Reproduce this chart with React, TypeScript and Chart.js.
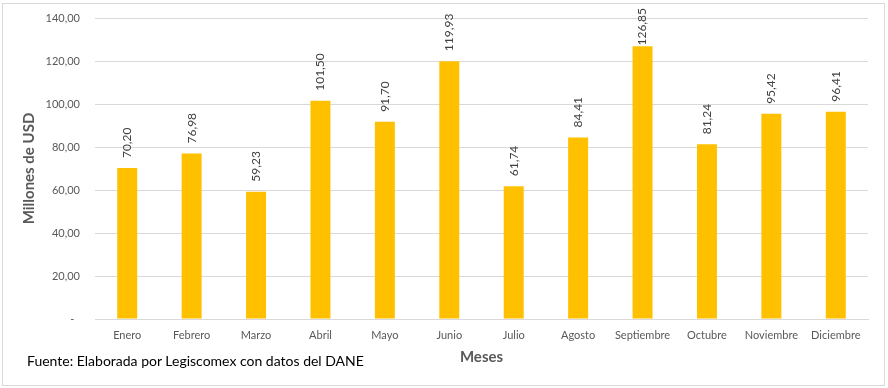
import React, { useEffect, useRef } from "react";
import { Chart, registerables } from "chart.js";

Chart.register(...registerables);

const months = ["Enero", "Febrero", "Marzo", "Abril", "Mayo", "Junio", "Julio", "Agosto", "Septiembre", "Octubre", "Noviembre", "Diciembre"];
const values = [70.2, 76.98, 59.23, 101.5, 91.7, 119.93, 61.74, 84.41, 126.85, 81.24, 95.42, 96.41];
const yTicks = [0, 20, 40, 60, 80, 100, 120, 140];

const FONT = "Lato, 'Open Sans', sans-serif";
const fmt = (v: number) => v.toFixed(2).replace(".", ",");
const tickFmt = (v: number) => (v === 0 ? "-\u00A0\u00A0" : fmt(v));

const labelPlugin = {
  id: "rotLabels",
  afterDatasetsDraw(chart: any) {
    const ctx = chart.ctx;
    const meta = chart.getDatasetMeta(0);
    ctx.save();
    ctx.font = `12px ${FONT}`;
    ctx.fillStyle = "#404040";
    ctx.textAlign = "left";
    ctx.textBaseline = "middle";
    meta.data.forEach((bar: any, i: number) => {
      const txt = fmt(values[i]);
      const w = ctx.measureText(txt).width;
      let start = bar.y - 10;
      if (start - w < 8) start = 8 + w;
      ctx.save();
      ctx.translate(bar.x, start);
      ctx.rotate(-Math.PI / 2);
      ctx.fillText(txt, 0, 0);
      ctx.restore();
    });
    ctx.restore();
  },
};

export default function App() {
  const ref = useRef<HTMLCanvasElement>(null);
  useEffect(() => {
    document.body.style.margin = "0";
    const chart = new Chart(ref.current!, {
      type: "bar",
      data: {
        labels: months,
        datasets: [
          {
            data: values,
            backgroundColor: "#FFC000",
            barPercentage: 0.31,
            categoryPercentage: 1,
          },
        ],
      },
      options: {
        animation: false,
        responsive: false,
        layout: { padding: { left: 20, right: 20, top: 18, bottom: 18 } },
        plugins: { legend: { display: false }, tooltip: { enabled: false } },
        scales: {
          x: {
            grid: { display: false, drawTicks: false },
            border: { color: "#d9d9d9" },
            ticks: { color: "#595959", font: { family: FONT, size: 11 }, maxRotation: 0, autoSkip: false, padding: 10 },
            title: { display: true, text: "Meses", color: "#595959", font: { family: FONT, size: 15, weight: "bold" }, padding: { top: 6, bottom: 4 } },
            afterFit: (s: any) => { s.height = 51; },
          },
          y: {
            min: 0,
            max: 140,
            afterBuildTicks: (s: any) => { s.ticks = yTicks.map((v) => ({ value: v })); },
            grid: { color: "#d9d9d9", drawTicks: true, tickLength: 11, tickColor: "rgba(0,0,0,0)" },
            border: { display: false },
            ticks: { color: "#595959", font: { family: FONT, size: 11 }, padding: 4, callback: (v: any) => tickFmt(Number(v)) },
            title: { display: true, text: "Millones de USD", color: "#595959", font: { family: FONT, size: 15, weight: "bold" }, padding: { top: 0, bottom: 0 } },
            afterFit: (s: any) => { s.width = 75; },
          },
        },
      },
      plugins: [labelPlugin],
    } as any);
    return () => chart.destroy();
  }, []);
  return (
    <div style={{ position: "fixed", left: 0, top: 0, width: 888, height: 388, background: "#fff" }}>
      <canvas ref={ref} width={888} height={388} style={{ position: "absolute", left: 0, top: 0 }} />
      <div style={{ position: "absolute", left: 2, top: 3, width: 881, height: 381, border: "1px solid #d9d9d9", pointerEvents: "none" }} />
      <div style={{ position: "absolute", left: 27, top: 352, fontFamily: FONT, fontSize: 14, color: "#000", whiteSpace: "nowrap" }}>
        Fuente: Elaborada por Legiscomex con datos del DANE
      </div>
    </div>
  );
}
